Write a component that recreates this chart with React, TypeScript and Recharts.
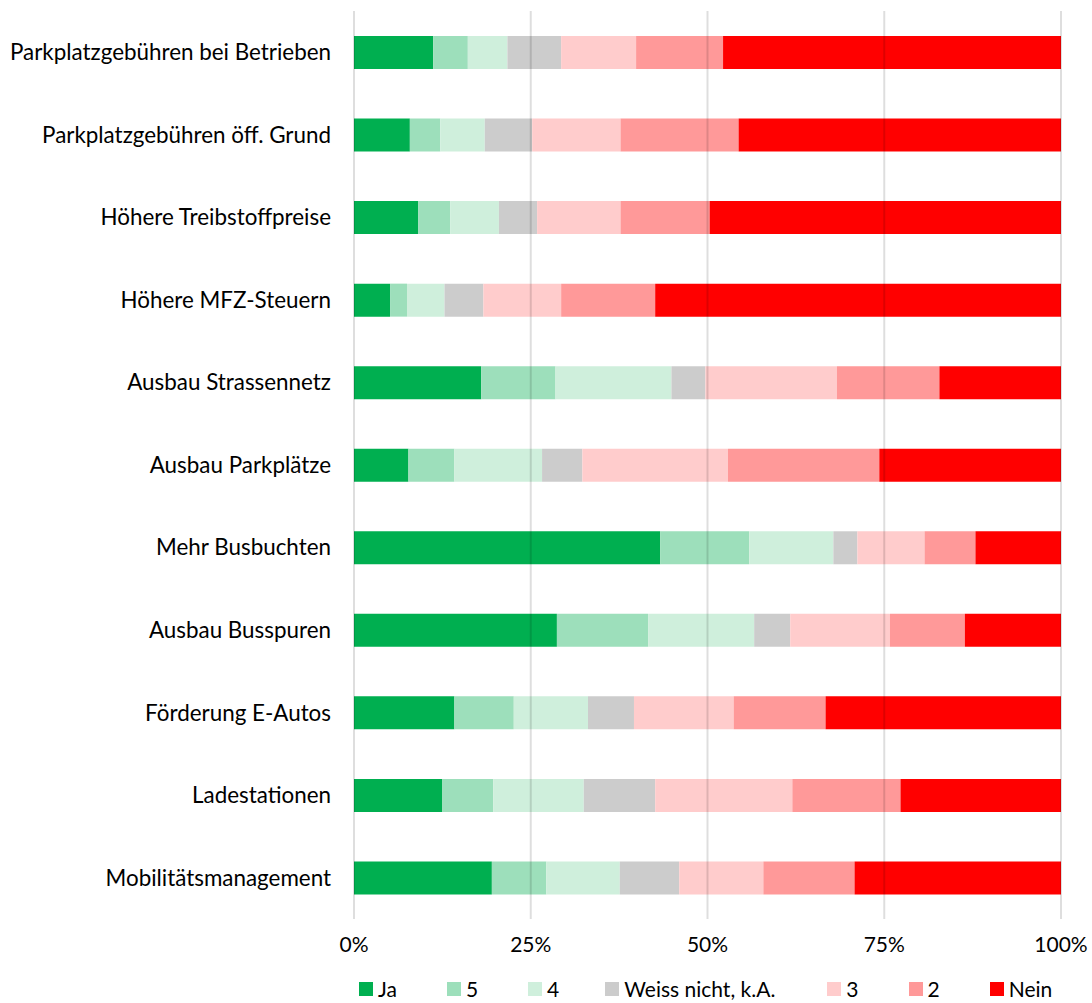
import React from 'react'
import { BarChart, Bar, XAxis, YAxis, Legend, ReferenceLine } from 'recharts'

const categories = [
  'Parkplatzgebühren bei Betrieben',
  'Parkplatzgebühren öff. Grund',
  'Höhere Treibstoffpreise',
  'Höhere MFZ-Steuern',
  'Ausbau Strassennetz',
  'Ausbau Parkplätze',
  'Mehr Busbuchten',
  'Ausbau Busspuren',
  'Förderung E-Autos',
  'Ladestationen',
  'Mobilitätsmanagement',
]

// shares in % per category, same order as categories
const ja = [11.2, 7.9, 9.1, 5.1, 18.0, 7.7, 43.3, 28.7, 14.2, 12.5, 19.5]
const s5 = [4.9, 4.3, 4.5, 2.4, 10.5, 6.5, 12.6, 12.9, 8.4, 7.2, 7.7]
const s4 = [5.6, 6.3, 6.9, 5.3, 16.4, 12.4, 11.9, 15.0, 10.5, 12.8, 10.4]
const weiss = [7.6, 6.7, 5.4, 5.5, 4.8, 5.7, 3.4, 5.1, 6.5, 10.1, 8.4]
const s3 = [10.6, 12.5, 11.8, 11.0, 18.6, 20.6, 9.5, 14.1, 14.1, 19.4, 11.9]
const s2 = [12.3, 16.7, 12.6, 13.3, 14.5, 21.4, 7.2, 10.6, 13.0, 15.3, 12.9]
const nein = [47.8, 45.6, 49.7, 57.4, 17.2, 25.7, 12.1, 13.6, 33.3, 22.7, 29.2]

const xTicks = [0, 25, 50, 75, 100]

const seriesDefs = [
  { key: 'ja', name: 'Ja', color: '#00AF50' },
  { key: 's5', name: '5', color: '#9DDFBB' },
  { key: 's4', name: '4', color: '#CFEFDC' },
  { key: 'weiss', name: 'Weiss nicht, k.A.', color: '#CCCCCC' },
  { key: 's3', name: '3', color: '#FFCCCC' },
  { key: 's2', name: '2', color: '#FF9999' },
  { key: 'nein', name: 'Nein', color: '#FF0000' },
]

const data = categories.map((c, i) => ({
  cat: c,
  ja: ja[i], s5: s5[i], s4: s4[i], weiss: weiss[i], s3: s3[i], s2: s2[i], nein: nein[i],
}))

const font = 'Lato, "Open Sans", sans-serif'

function renderLegend() {
  return (
    <div style={{ display: 'flex', whiteSpace: 'nowrap', width: 1092, boxSizing: 'border-box', paddingLeft: 359, paddingTop: 27, fontFamily: font, fontSize: 21, color: '#000', lineHeight: '26px' }}>
      {seriesDefs.map(s => (
        <div key={s.key} style={{ display: 'flex', alignItems: 'center', marginRight: s.key === 's4' ? 46 : s.key === 'weiss' ? 52 : 50, flexShrink: 0 }}>
          <span style={{ width: 14, height: 14, background: s.color, display: 'inline-block', marginRight: 5 }} />
          <span>{s.name}</span>
        </div>
      ))}
    </div>
  )
}

export default function App() {
  return (
    <div style={{ position: 'absolute', left: 0, top: 0, width: 1092, height: 1003, background: '#fff' }}>
      <BarChart
        width={1092}
        height={1003}
        data={data}
        layout="vertical"
        margin={{ top: 11, right: 31, left: 0, bottom: 0 }}
        barSize={33}
      >
        <XAxis
          type="number"
          domain={[0, 100]}
          ticks={xTicks}
          tickFormatter={v => v + '%'}
          axisLine={false}
          tickLine={false}
          tickMargin={12}
          height={30}
          tick={{ fontFamily: font, fontSize: 21, fill: '#000' }}
        />
        <YAxis
          type="category"
          dataKey="cat"
          width={354}
          axisLine={false}
          tickLine={false}
          tickMargin={17}
          interval={0}
          tick={{ fontFamily: font, fontSize: 22.4, fill: '#000' }}
        />
        {seriesDefs.map(s => (
          <Bar key={s.key} dataKey={s.key} name={s.name} stackId="a" fill={s.color} isAnimationActive={false} />
        ))}
        {xTicks.map(t => (
          <ReferenceLine key={t} x={t} stroke="#000" strokeOpacity={0.13} strokeWidth={2} />
        ))}
        <Legend verticalAlign="bottom" height={54} content={renderLegend} />
      </BarChart>
    </div>
  )
}
